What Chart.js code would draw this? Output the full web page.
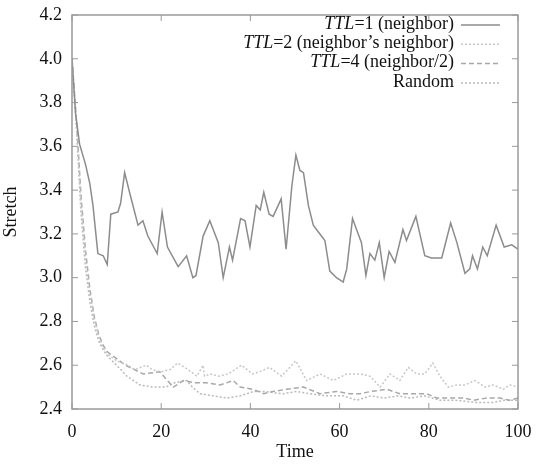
<!DOCTYPE html>
<html>
<head>
<meta charset="utf-8">
<script src="https://cdn.jsdelivr.net/npm/chart.js@4"></script>
<style>
  html, body { margin: 0; padding: 0; background: #fff; }
  #wrap { width: 536px; height: 467px; position: relative; }
</style>
</head>
<body>
<div id="wrap"><canvas id="chart"></canvas></div>
<script>
// TTL=1 (neighbor)
const ttl1Time = [0, 0.8, 1.7, 3, 4, 4.7, 5.8, 7, 7.9, 8.7, 10.3, 10.9, 11.8, 12.9, 14.8, 15.9, 17, 19.1, 20.2, 21.4, 23.8, 25.7, 27.1, 27.8, 29.4, 30.9, 32.8, 33.9, 35.3, 36, 37.8, 38.8, 39.9, 41.3, 42.2, 43, 44.2, 45.1, 46.9, 48, 49.3, 50.2, 51.1, 51.9, 53, 54.1, 55.2, 56.7, 57.8, 59.3, 60.8, 61.6, 62.9, 63.8, 64.9, 65.9, 66.8, 67.9, 68.9, 70, 71.1, 72.4, 74.2, 75, 77.1, 79.1, 80.6, 82.9, 84.9, 86.3, 88.1, 89.2, 89.8, 90.9, 92.1, 93.1, 95.1, 96.9, 98.6, 100];
const ttl1Vals = [4.0, 3.75, 3.61, 3.52, 3.43, 3.33, 3.11, 3.10, 3.06, 3.29, 3.30, 3.34, 3.48, 3.39, 3.24, 3.26, 3.19, 3.11, 3.30, 3.14, 3.05, 3.10, 3.00, 3.01, 3.19, 3.26, 3.16, 3.00, 3.14, 3.08, 3.27, 3.26, 3.14, 3.33, 3.31, 3.39, 3.29, 3.28, 3.36, 3.13, 3.42, 3.56, 3.49, 3.48, 3.33, 3.24, 3.21, 3.17, 3.03, 3.00, 2.98, 3.04, 3.27, 3.22, 3.16, 3.01, 3.11, 3.08, 3.16, 3.00, 3.12, 3.07, 3.22, 3.17, 3.28, 3.10, 3.09, 3.09, 3.25, 3.16, 3.02, 3.04, 3.10, 3.04, 3.14, 3.10, 3.24, 3.14, 3.15, 3.13];

// TTL=2 (neighbor's neighbor)
const ttl2Time = [0, 1, 2, 3, 4, 5, 6, 7, 8, 10, 12.6, 14, 16.7, 18, 20, 22, 23.7, 26, 28, 29.4, 29.7, 31, 33, 35, 38, 40.5, 42, 44.3, 47, 50.2, 52.6, 55.6, 58.6, 61.6, 64.6, 66.8, 69.1, 71.3, 73.5, 75.4, 77.3, 79.1, 80.9, 82.5, 84.4, 86.3, 88.1, 90.4, 92.6, 94.5, 96.7, 98.2, 100];
const ttl2Vals = [4.0, 3.7, 3.35, 3.1, 2.93, 2.81, 2.73, 2.68, 2.65, 2.62, 2.60, 2.58, 2.60, 2.58, 2.57, 2.58, 2.61, 2.58, 2.55, 2.60, 2.55, 2.56, 2.55, 2.56, 2.60, 2.56, 2.57, 2.59, 2.55, 2.62, 2.53, 2.56, 2.53, 2.56, 2.56, 2.55, 2.50, 2.56, 2.53, 2.59, 2.56, 2.56, 2.61, 2.55, 2.50, 2.51, 2.51, 2.53, 2.50, 2.51, 2.49, 2.51, 2.50];

// TTL=4 (neighbor/2)
const ttl4Time = [0, 1, 2, 3, 4, 5, 6, 7, 8, 10, 12, 14, 16, 19.7, 22.7, 25, 27.3, 30, 33.2, 36.2, 37.7, 40.6, 43, 45, 48.1, 51.9, 55.6, 59.3, 62.3, 64.6, 67, 70.6, 73.5, 76.5, 79.5, 81.8, 85, 88, 90, 93, 96, 98, 100];
const ttl4Vals = [4.0, 3.72, 3.38, 3.13, 2.95, 2.82, 2.74, 2.69, 2.66, 2.63, 2.60, 2.58, 2.56, 2.57, 2.50, 2.53, 2.52, 2.52, 2.51, 2.53, 2.50, 2.49, 2.47, 2.48, 2.49, 2.50, 2.47, 2.48, 2.47, 2.47, 2.48, 2.49, 2.47, 2.47, 2.47, 2.45, 2.45, 2.45, 2.44, 2.45, 2.45, 2.44, 2.45];

// Random
const randTime = [0, 1, 2, 3, 4, 5, 6, 7, 8, 10, 12.3, 15.2, 18.2, 21.1, 23, 25.7, 27, 28.7, 31.7, 34.7, 37.7, 40.7, 43, 47.3, 50.4, 53.1, 57.1, 60.8, 63.8, 67, 70, 73, 75.8, 79, 82.5, 86, 90.7, 94.5, 97, 100];
const randVals = [4.0, 3.68, 3.3, 3.05, 2.89, 2.78, 2.71, 2.67, 2.64, 2.60, 2.55, 2.51, 2.50, 2.50, 2.52, 2.53, 2.50, 2.47, 2.46, 2.45, 2.46, 2.48, 2.48, 2.47, 2.48, 2.47, 2.46, 2.46, 2.44, 2.46, 2.45, 2.46, 2.45, 2.46, 2.44, 2.44, 2.43, 2.43, 2.44, 2.44];

const seriesLabels = [
  ['TTL', '=1 (neighbor)'],
  ['TTL', '=2 (neighbor\u2019s neighbor)'],
  ['TTL', '=4 (neighbor/2)'],
  ['', 'Random']
];
const xTicks = [0, 20, 40, 60, 80, 100];
const yTicks = [2.4, 2.6, 2.8, 3.0, 3.2, 3.4, 3.6, 3.8, 4.0, 4.2];

const FONT = '"Liberation Serif", "DejaVu Serif", serif';
const styles = [
  { color: '#8c8c8c', dash: [] },
  { color: '#c8c8c8', dash: [2, 2] },
  { color: '#a8a8a8', dash: [5, 3] },
  { color: '#bababa', dash: [2, 2] }
];

function pts(ts, vs) {
  return ts.map((t, i) => ({ x: t, y: vs[i] }));
}

// frame, inward ticks on all four sides and the legend, gnuplot style
const framePlugin = {
  id: 'frame',
  afterDatasetsDraw(c) {
    const { ctx, chartArea: a, scales } = c;
    ctx.save();
    ctx.strokeStyle = '#9a9a9a';
    ctx.lineWidth = 1.5;
    ctx.setLineDash([]);
    ctx.strokeRect(a.left, a.top, a.right - a.left, a.bottom - a.top);
    ctx.lineWidth = 1;
    const tl = 6;
    ctx.beginPath();
    xTicks.forEach((v) => {
      const x = scales.x.getPixelForValue(v);
      ctx.moveTo(x, a.bottom); ctx.lineTo(x, a.bottom - tl);
      ctx.moveTo(x, a.top); ctx.lineTo(x, a.top + tl);
    });
    yTicks.forEach((v) => {
      const y = scales.y.getPixelForValue(v);
      ctx.moveTo(a.left, y); ctx.lineTo(a.left + tl, y);
      ctx.moveTo(a.right, y); ctx.lineTo(a.right - tl, y);
    });
    ctx.stroke();

    // legend
    const textRight = 454;
    ctx.textBaseline = 'middle';
    seriesLabels.forEach((lab, i) => {
      const y = 24 + i * 19.3;
      ctx.fillStyle = '#111';
      ctx.font = '18px ' + FONT;
      const restW = ctx.measureText(lab[1]).width;
      ctx.textAlign = 'right';
      ctx.fillText(lab[1], textRight, y);
      if (lab[0]) {
        ctx.font = 'italic 18px ' + FONT;
        ctx.fillText(lab[0], textRight - restW, y);
      }
      ctx.strokeStyle = styles[i].color;
      ctx.lineWidth = 1.5;
      ctx.setLineDash(styles[i].dash);
      ctx.beginPath();
      ctx.moveTo(461, y + 1);
      ctx.lineTo(500, y + 1);
      ctx.stroke();
    });
    ctx.restore();
  }
};

const data = [pts(ttl1Time, ttl1Vals), pts(ttl2Time, ttl2Vals), pts(ttl4Time, ttl4Vals), pts(randTime, randVals)];

new Chart(document.getElementById('chart'), {
  type: 'line',
  data: {
    datasets: data.map((d, i) => ({
      label: seriesLabels[i].join(''),
      data: d,
      borderColor: styles[i].color,
      borderDash: styles[i].dash,
      borderWidth: 1.5,
      pointRadius: 0,
      tension: 0,
      fill: false
    }))
  },
  options: {
    responsive: true,
    maintainAspectRatio: false,
    animation: false,
    layout: { padding: { top: 15, right: 18, left: 0, bottom: 0 } },
    plugins: { legend: { display: false }, tooltip: { enabled: false } },
    scales: {
      x: {
        type: 'linear',
        min: 0,
        max: 100,
        afterBuildTicks(s) { s.ticks = xTicks.map((v) => ({ value: v })); },
        afterFit(s) { s.height = 58; s.paddingLeft = 0; s.paddingRight = 0; },
        grid: { display: false, drawTicks: false },
        border: { display: false },
        ticks: { color: '#111', font: { family: FONT, size: 18 }, padding: 12, maxRotation: 0 },
        title: { display: true, text: 'Time', color: '#111', font: { family: FONT, size: 18 }, padding: { top: 0, bottom: 4 } }
      },
      y: {
        type: 'linear',
        min: 2.4,
        max: 4.2,
        afterBuildTicks(s) { s.ticks = yTicks.map((v) => ({ value: v })); },
        afterFit(s) { s.width = 72; s.paddingTop = 0; s.paddingBottom = 0; },
        grid: { display: false, drawTicks: false },
        border: { display: false },
        ticks: { color: '#111', font: { family: FONT, size: 18 }, padding: 10, callback: (v) => v.toFixed(1) },
        title: { display: true, text: 'Stretch', color: '#111', font: { family: FONT, size: 18 }, padding: { top: 0, bottom: 8 } }
      }
    }
  },
  plugins: [framePlugin]
});
</script>
</body>
</html>
